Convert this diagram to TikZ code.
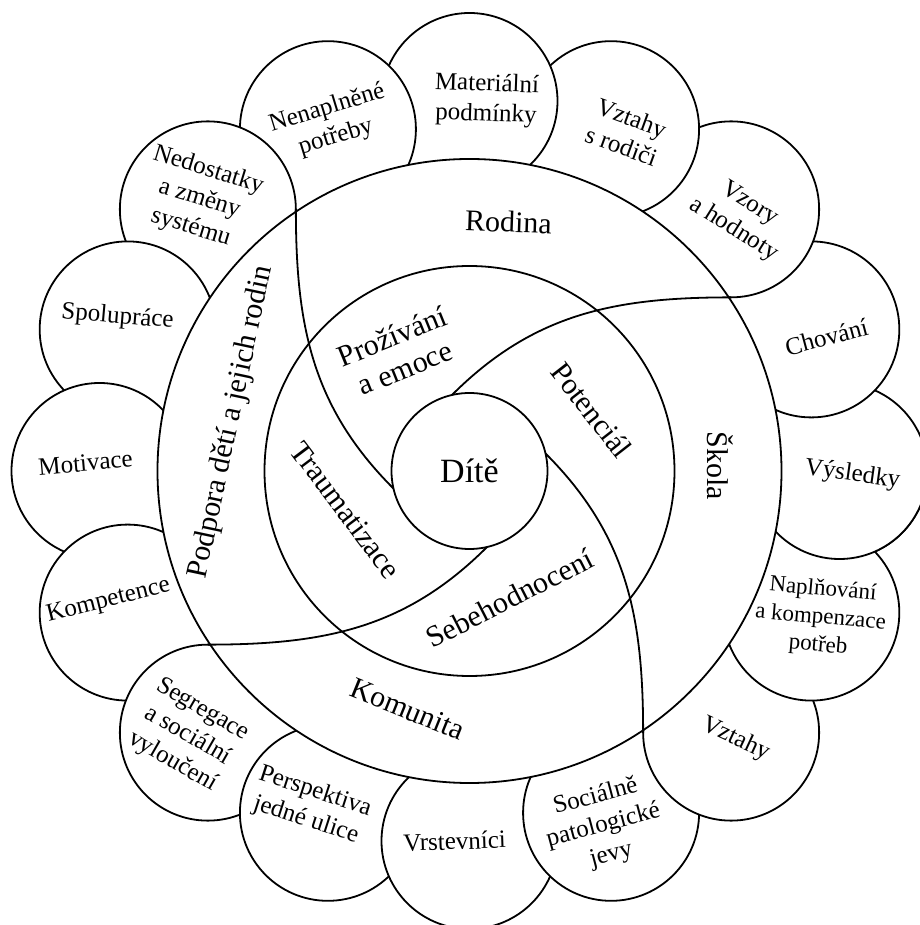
\documentclass[tikz,border=0pt]{standalone}
\usepackage{fontspec}
\setmainfont{Liberation Serif}
\tikzset{
  petal/.style={circle, draw, fill=white, line width=1.8pt, minimum size=176pt, inner sep=0pt, outer sep=0pt},
  ring/.style={circle, draw, line width=1.8pt, inner sep=0pt, outer sep=0pt},
  swirl/.style={line width=1.8pt},
  petaltext/.style={font=\fontsize{25}{30}\selectfont, align=center, inner sep=0pt},
  ringtext/.style={font=\fontsize{30}{34}\selectfont, align=center, inner sep=0pt}
}
\begin{document}
\begin{tikzpicture}[x=1pt,y=1pt]
\useasboundingbox (-469.5,-454) rectangle (449.5,471);

% petals, each one lies on its clockwise neighbour
\foreach \ang/\nm in {0/vysledky,22.5/chovani,45/vzory,67.5/rodice,90/material,112.5/potreby,135/nedostatky,157.5/spoluprace,180/motivace,202.5/kompetence,225/segregace,247.5/perspektiva,270/vrstevnici,292.5/patologie,315/vztahy,337.5/naplnovani}
  \node [petal] (\nm) at (\ang:370) {};
\begin{scope}
  \clip (0,0) -- (-22.5:600) -- (0:600) -- cycle;
  \node [petal] (vysledky2) at (0:370) {};
\end{scope}

% rings
\node [ring,fill=white,minimum size=624pt] (outer) at (0,0) {};
\node [ring,minimum size=410pt] (middle) at (0,0) {};
\node [ring,fill=white,minimum size=156pt,font=\fontsize{34}{38}\selectfont] (dite) at (0,0) {Dítě};

% swirls
\draw [swirl] (dite.193) to [out=135,in=-90] (nedostatky.east);
\draw [swirl] (dite.103) to [out=45,in=180] (vzory.south);
\draw [swirl] (dite.13) to [out=-45,in=90] (vztahy.west);
\draw [swirl] (dite.283) to [out=-135,in=0] (segregace.north);

% ring labels
\node [ringtext,rotate=-2] (rodina) at (39,249) {Rodina};
\node [ringtext,rotate=-90] (skola) at (251,5) {Škola};
\node [ringtext,rotate=-22] (komunita) at (-62,-238) {Komunita};
\node [ringtext,rotate=78] (podpora) at (-238,49) {Podpora dětí a jejich rodin};
\node [ringtext,rotate=22] (emoce) at (-71,119) {Prožívání\\a emoce};
\node [ringtext,rotate=-52] (potencial) at (122,61) {Potenciál};
\node [ringtext,rotate=-53] (trauma) at (-124,-39) {Traumatizace};
\node [ringtext,rotate=27] (sebe) at (40,-127) {Sebehodnocení};

% petal labels
\node [petaltext,rotate=-8] (lvysledky) at (383,-4) {Výsledky};
\node [petaltext,rotate=15] (lchovani) at (357,134) {Chování};
\node [petaltext,rotate=-32] (lvzory) at (272,254) {Vzory\\a hodnoty};
\node [petaltext,rotate=-20] (lrodice) at (157,339) {Vztahy\\s rodiči};
\node [petaltext,rotate=-2] (lmaterial) at (17,371) {Materiální\\podmínky};
\node [petaltext,rotate=17] (lpotreby) at (-138,348) {Nenaplněné\\potřeby};
\node [petaltext,rotate=-17] (lnedostatky) at (-270,272) {Nedostatky\\a změny\\systému};
\node [petaltext,rotate=-5] (lspoluprace) at (-352,154) {Spolupráce};
\node [petaltext,rotate=5] (lmotivace) at (-384,8) {Motivace};
\node [petaltext,rotate=14] (lkompetence) at (-361,-130) {Kompetence};
\node [petaltext,rotate=-30] (lsegregace) at (-282,-265) {Segregace\\a sociální\\vyloučení};
\node [petaltext,rotate=-18] (lperspektiva) at (-159,-335) {Perspektiva\\jedné ulice};
\node [petaltext,rotate=2] (lvrstevnici) at (-15,-370) {Vrstevníci};
\node [petaltext,rotate=15] (lpatologie) at (134,-355) {Sociálně\\patologické\\jevy};
\node [petaltext,rotate=-25] (lvztahy) at (266,-268) {Vztahy};
\node [petaltext,rotate=-5,font=\fontsize{23}{28}\selectfont] (lnaplnovani) at (351,-147) {Naplňování\\a kompenzace\\potřeb};

\end{tikzpicture}
\end{document}
